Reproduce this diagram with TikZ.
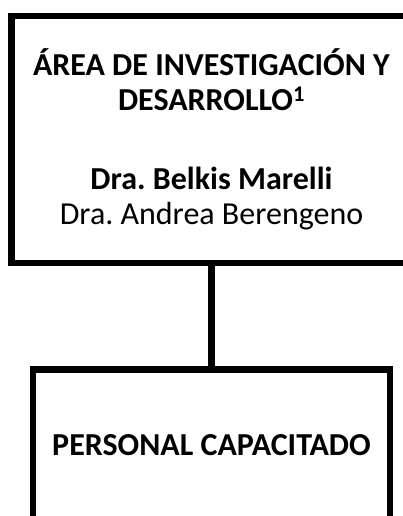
\documentclass[tikz,border=0pt]{standalone}
\usepackage{fontspec}
\setmainfont{Carlito}
\usetikzlibrary{positioning}
\tikzset{
    org-box/.style = {draw=black, line width=6.5pt, rectangle, align=center, font=\fontsize{32}{35}\selectfont\frenchspacing},
    org-line/.style = {draw=black, line width=6.5pt},
}

\begin{document}
\begin{tikzpicture}[x=1pt,y=1pt]
\useasboundingbox (0,0) rectangle (403,-516);
\node [org-box, minimum width=400pt, minimum height=247pt] (area) at (211.5,-139.5) {\textbf{ÁREA DE INVESTIGACIÓN Y}\\ \textbf{DESARROLLO\textsuperscript{1}}\\[44pt] \textbf{Dra. Belkis Marelli}\\ Dra. Andrea Berengeno};
\node [org-box, minimum width=357pt, minimum height=152pt, below=100pt of area] (personal) {\textbf{PERSONAL CAPACITADO}};
\draw [org-line] (area) -- (personal);
\end{tikzpicture}
\end{document}
